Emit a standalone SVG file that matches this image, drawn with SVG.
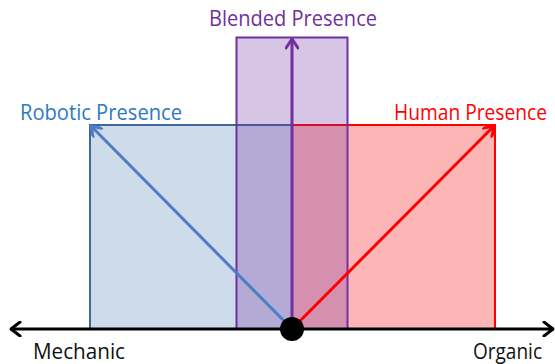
<svg xmlns="http://www.w3.org/2000/svg" width="555" height="364" viewBox="0 0 555 364">
<style>
text{font-family:"Open Sans","Liberation Sans",sans-serif;font-size:21px}
.arr{fill:none;stroke-width:3;stroke-linecap:round;stroke-linejoin:round}
</style>
<defs>
<marker id="hb" viewBox="0 0 12 14" refX="11" refY="7" markerWidth="12" markerHeight="14" markerUnits="userSpaceOnUse" orient="auto"><path d="M2,1 L11,7 L2,13" fill="none" stroke="#4f7cc4" stroke-width="3" stroke-linecap="round" stroke-linejoin="round"/></marker>
<marker id="hr" viewBox="0 0 12 14" refX="11" refY="7" markerWidth="12" markerHeight="14" markerUnits="userSpaceOnUse" orient="auto"><path d="M2,1 L11,7 L2,13" fill="none" stroke="#ff0000" stroke-width="3" stroke-linecap="round" stroke-linejoin="round"/></marker>
<marker id="hp" viewBox="0 0 12 14" refX="11" refY="7" markerWidth="12" markerHeight="14" markerUnits="userSpaceOnUse" orient="auto"><path d="M2,1 L11,7 L2,13" fill="none" stroke="#7030a0" stroke-width="3" stroke-linecap="round" stroke-linejoin="round"/></marker>
<marker id="hk" viewBox="0 0 12 16" refX="11" refY="8" markerWidth="12" markerHeight="16" markerUnits="userSpaceOnUse" orient="auto-start-reverse"><path d="M2,1 L11,8 L2,15" fill="none" stroke="#000" stroke-width="3" stroke-linecap="round" stroke-linejoin="round"/></marker>
</defs>
<g id="robotic">
<rect x="90" y="125" width="202" height="204" fill="#cedbeb" stroke="#3f6799" stroke-width="2"/>
<text x="20" y="120" fill="#2e78c4" textLength="162" lengthAdjust="spacingAndGlyphs">Robotic Presence</text>
</g>
<g id="human">
<rect x="292" y="125" width="203" height="204" fill="#fcb6b6" stroke="#ff0000" stroke-width="2"/>
<text x="547" y="120" fill="#ff0000" font-size="19" text-anchor="end" textLength="153" lengthAdjust="spacingAndGlyphs">Human Presence</text>
</g>
<g id="blended">
<rect x="236.5" y="37.5" width="111" height="291.5" fill="#7030a0" fill-opacity="0.28" stroke="#7030a0" stroke-width="2"/>
<text x="209" y="26" fill="#7030a0" textLength="168" lengthAdjust="spacingAndGlyphs">Blended Presence</text>
</g>
<g id="connectors">
<line class="arr" x1="292" y1="329" x2="91" y2="126" stroke="#4f7cc4" marker-end="url(#hb)"/>
<line class="arr" x1="292" y1="329" x2="494" y2="126" stroke="#ff0000" marker-end="url(#hr)"/>
<line class="arr" x1="292" y1="329" x2="292" y2="39" stroke="#7030a0" marker-end="url(#hp)"/>
<line class="arr" x1="11" y1="329" x2="553" y2="329" stroke="#000" marker-start="url(#hk)" marker-end="url(#hk)"/>
</g>
<g id="origin">
<circle cx="292" cy="329" r="12" fill="#000"/>
</g>
<g id="mechanic"><text x="33" y="359" fill="#111" font-size="20" textLength="92" lengthAdjust="spacingAndGlyphs">Mechanic</text></g>
<g id="organic"><text x="473" y="359" fill="#111" font-size="20" textLength="69" lengthAdjust="spacingAndGlyphs">Organic</text></g>
</svg>
